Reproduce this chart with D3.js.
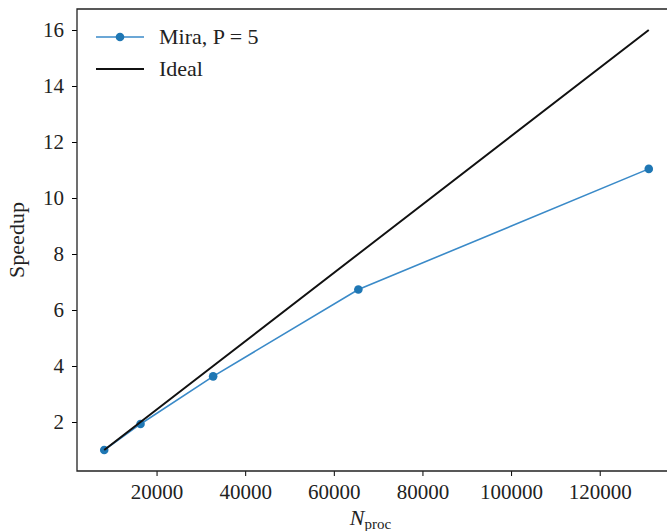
<!DOCTYPE html>
<html>
<head>
<meta charset="utf-8">
<style>
body { margin: 0; background: #fff; }
svg { display: block; }
.tick text { font-family: "Liberation Serif", "Times New Roman", serif; font-size: 21px; fill: #222; }
.tick line { stroke: #000; stroke-width: 1; }
.domain { display: none; }
.spine { stroke: #222; stroke-width: 1.3; fill: none; }
.label { font-family: "Liberation Serif", "Times New Roman", serif; font-size: 22px; fill: #222; }
</style>
</head>
<body>
<svg id="chart" width="667" height="531"></svg>
<script src="https://cdn.jsdelivr.net/npm/d3@7"></script>
<script>
// data
var nProc = [8192, 16384, 32768, 65536, 131072];
var miraSpeedup = [1.0, 1.93, 3.63, 6.73, 11.04];
var idealSpeedup = [1, 2, 4, 8, 16];
var xTicks = [20000, 40000, 60000, 80000, 100000, 120000];
var yTicks = [2, 4, 6, 8, 10, 12, 14, 16];

var svg = d3.select("#chart"),
    margin = {left: 77, top: 9, right: 676, bottom: 471};

var x = d3.scaleLinear().domain([2048, 137216]).range([margin.left, margin.right]);
var y = d3.scaleLinear().domain([0.25, 16.75]).range([margin.bottom, margin.top]);

// axes
svg.append("g")
    .attr("transform", "translate(0," + margin.bottom + ")")
    .call(d3.axisBottom(x).tickValues(xTicks).tickSize(5).tickPadding(8).tickFormat(d3.format("d")))
  .selectAll("text")
    .attr("font-family", null).attr("font-size", null);

svg.append("g")
    .attr("transform", "translate(" + margin.left + ",0)")
    .call(d3.axisLeft(y).tickValues(yTicks).tickSize(5).tickPadding(8).tickFormat(d3.format("d")));

// spines
svg.append("path").attr("class", "spine")
    .attr("d", "M" + margin.left + "," + margin.bottom + "V" + margin.top + "H" + margin.right + "V" + margin.bottom + "Z");

var line = d3.line()
    .x(function(d) { return x(d[0]); })
    .y(function(d) { return y(d[1]); });

var mira = nProc.map(function(n, i) { return [n, miraSpeedup[i]]; });
var ideal = nProc.map(function(n, i) { return [n, idealSpeedup[i]]; });

svg.append("path")
    .attr("d", line(mira))
    .attr("fill", "none")
    .attr("stroke", "#3a8ac8")
    .attr("stroke-width", 1.6);

svg.selectAll(".pt")
    .data(mira)
  .enter().append("circle")
    .attr("class", "pt")
    .attr("cx", function(d) { return x(d[0]); })
    .attr("cy", function(d) { return y(d[1]); })
    .attr("r", 4.3)
    .attr("fill", "#1f77b4");

svg.append("path")
    .attr("d", line(ideal))
    .attr("fill", "none")
    .attr("stroke", "#111")
    .attr("stroke-width", 2);

// legend
var legend = svg.append("g").attr("transform", "translate(96,37)");
legend.append("line").attr("x1", 0).attr("x2", 48).attr("y1", 0).attr("y2", 0)
    .attr("stroke", "#3a8ac8").attr("stroke-width", 1.6);
legend.append("circle").attr("cx", 24).attr("cy", 0).attr("r", 4.3).attr("fill", "#1f77b4");
legend.append("text").attr("class", "label").attr("x", 63).attr("y", 7).text("Mira, P = 5");
legend.append("line").attr("x1", 0).attr("x2", 48).attr("y1", 32).attr("y2", 32)
    .attr("stroke", "#111").attr("stroke-width", 2);
legend.append("text").attr("class", "label").attr("x", 63).attr("y", 39).text("Ideal");

// axis labels
svg.append("text").attr("class", "label")
    .attr("transform", "translate(24," + (margin.top + margin.bottom) / 2 + ") rotate(-90)")
    .attr("text-anchor", "middle")
    .text("Speedup");

var xl = svg.append("text").attr("class", "label")
    .attr("x", (margin.left + margin.right) / 2 - 6)
    .attr("y", 525)
    .attr("text-anchor", "middle");
xl.append("tspan").attr("font-style", "italic").text("N");
xl.append("tspan").attr("font-size", "15px").attr("dy", 4).text("proc");
</script>
</body>
</html>
